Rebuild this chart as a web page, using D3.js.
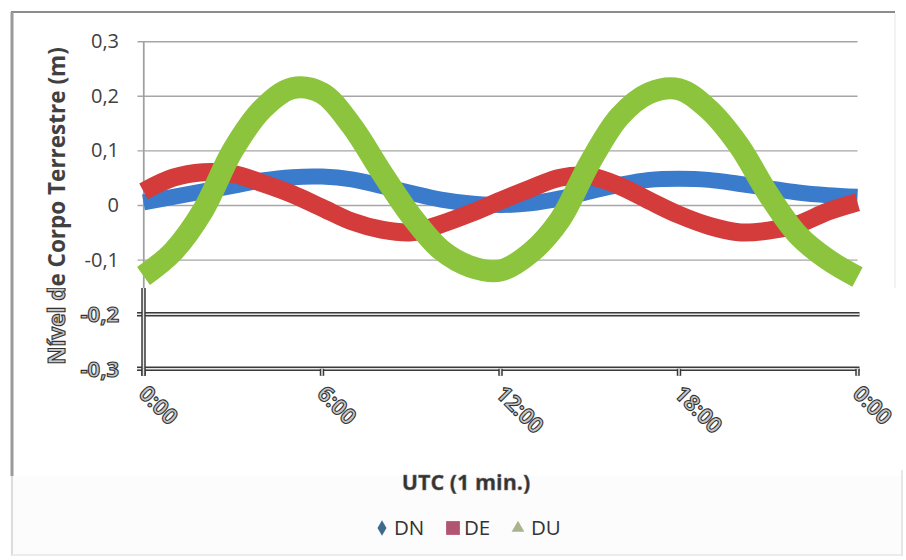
<!DOCTYPE html>
<html>
<head>
<meta charset="utf-8">
<script src="https://cdn.jsdelivr.net/npm/d3@7"></script>
<style>
body { margin: 0; background: #fff; }
svg { display: block; font-family: "Open Sans", Lato, sans-serif; }
</style>
</head>
<body>
<div id="chart"></div>
<script>
const width = 906
    height = 560;

// hours of the day (UTC)
const hours = [0, 1, 2, 3, 4, 5, 6, 7, 8, 9, 10, 11, 12, 13, 14, 15, 16, 17, 18, 19, 20, 21, 22, 23, 24];

// body tide, metres
const dn = [0.005, 0.015, 0.025, 0.035, 0.045, 0.051, 0.052, 0.047, 0.035, 0.022, 0.010, 0.003, 0.000,
            0.003, 0.012, 0.025, 0.037, 0.046, 0.048, 0.046, 0.039, 0.031, 0.023, 0.018, 0.015];
const de = [0.025, 0.050, 0.060, 0.057, 0.040, 0.020, -0.005, -0.030, -0.045, -0.050, -0.035, -0.015, 0.008,
            0.030, 0.050, 0.053, 0.035, 0.008, -0.018, -0.038, -0.050, -0.047, -0.035, -0.012, 0.005];
const du = [-0.130, -0.085, -0.010, 0.100, 0.176, 0.214, 0.205, 0.145, 0.060, -0.020, -0.082, -0.113, -0.120,
            -0.088, -0.027, 0.077, 0.162, 0.205, 0.212, 0.175, 0.110, 0.020, -0.055, -0.100, -0.132];

const seriesNames = ["DN", "DE", "DU"];
const seriesColors = ["#3a7bcc", "#d43b3b", "#8cc43e"];
const seriesWidths = [16, 18, 22];

const yTicks = [-0.3, -0.2, -0.1, 0, 0.1, 0.2, 0.3];
const yTickLabels = ["-0,3", "-0,2", "-0,1", "0", "0,1", "0,2", "0,3"];
const xTicks = [0, 6, 12, 18, 24];
const xTickLabels = ["0:00", "6:00", "12:00", "18:00", "0:00"];

const yTitle = "Nível de Corpo Terrestre (m)";
const xTitle = "UTC (1 min.)";

// the upper picture covers this box, below it everything is "ghosted"
const panel = {x: 13, y: 13, w: 882, h: 275};
const cut = panel.y + panel.h;

const x = d3.scaleLinear().domain([0, 24]).range([143.5, 857.5]);
const y = d3.scaleLinear().domain([-0.3, 0.3]).range([368.8, 41.2]);

const svg = d3.select("#chart").append("svg")
    .attr("width", width)
    .attr("height", height);

const defs = svg.append("defs");

// legend band background
svg.append("rect")
    .attr("x", 12).attr("y", 476).attr("width", 890).attr("height", 79)
    .attr("fill", "#fcfcfc");

// ---------- ghost layer ----------
let ghost = svg.append("g").attr("class", "ghost");

function ghostLine(g, x1, y1, x2, y2) {
    g.append("line").attr("x1", x1).attr("y1", y1).attr("x2", x2).attr("y2", y2)
        .attr("stroke", "#3a3a3a").attr("stroke-width", 4.5);
    g.append("line").attr("x1", x1).attr("y1", y1).attr("x2", x2).attr("y2", y2)
        .attr("stroke", "#e8e8e8").attr("stroke-width", 1.5);
}

yTicks.filter(v => y(v) > cut).forEach(v => ghostLine(ghost, 137, y(v), x(24) + 2, y(v)));
ghostLine(ghost, x(0), cut, x(0), y(-0.3) + 7);
xTicks.forEach(t => ghostLine(ghost, x(t), y(-0.3), x(t), y(-0.3) + 7));

function ghostText(sel) {
    return sel.attr("fill", "#c8c8c8")
        .attr("stroke", "#333")
        .attr("stroke-width", 1.1)
        .attr("font-weight", "bold");
}

ghost.selectAll("text.xtick")
    .data(xTicks)
    .join("text")
    .attr("class", "xtick")
    .attr("transform", d => `translate(${x(d) - 6},${395}) rotate(45)`)
    .attr("font-size", 22)
    .text((d, i) => xTickLabels[i])
    .call(ghostText);

// ---------- upper picture ----------
svg.append("clipPath").attr("id", "panelClip")
  .append("rect")
    .attr("x", panel.x).attr("y", panel.y)
    .attr("width", panel.w).attr("height", panel.h);

let upper = svg.append("g").attr("clip-path", "url(#panelClip)");

upper.append("rect")
    .attr("x", panel.x).attr("y", panel.y)
    .attr("width", panel.w).attr("height", panel.h)
    .attr("fill", "#fff");

upper.append("g")
    .attr("transform", `translate(${x(0)},0)`)
    .call(d3.axisLeft(y)
        .tickValues(yTicks.filter(v => y(v) < cut))
        .tickSize(-(x(24) - x(0)))
        .tickSizeOuter(0)
        .tickFormat(""))
    .call(g => g.select(".domain").attr("stroke", "#a0a0a0").attr("stroke-width", 1.2))
    .call(g => g.selectAll(".tick line").attr("stroke", "#a6a6a6").attr("stroke-width", 1.4).attr("x1", -6));
upper.append("line")
    .attr("x1", x(0)).attr("x2", x(0)).attr("y1", y(0.3)).attr("y2", cut)
    .attr("stroke", "#a0a0a0").attr("stroke-width", 1.2);

const line = d3.line()
    .x((d, i) => x(hours[i]))
    .y(d => y(d))
    .curve(d3.curveCatmullRom);

[dn, de, du].forEach((s, k) => {
    upper.append("path")
        .datum(s)
        .attr("fill", "none")
        .attr("stroke", seriesColors[k])
        .attr("stroke-width", seriesWidths[k])
        .attr("stroke-linecap", "butt")
        .attr("stroke-linejoin", "round")
        .attr("d", line);
});

// y tick labels: plain in the upper picture, ghosted below it
svg.append("g").selectAll("text")
    .data(yTicks)
    .join("text")
    .attr("x", 119)
    .attr("y", d => y(d))
    .attr("dy", "0.35em")
    .attr("text-anchor", "end")
    .attr("font-size", d => y(d) > cut ? 22 : 20)
    .text((d, i) => yTickLabels[i])
    .each(function (d) {
        let t = d3.select(this);
        if (y(d) > cut) t.call(ghostText);
        else t.attr("fill", "#404040");
    });

// y title: one text, plain above the cut, ghosted below it
const titleX = 65, titleY = 206;
const cutLocal = titleY - cut;   // local x of the cut after rotate(-90)
let gFill = defs.append("linearGradient").attr("id", "titleFill")
    .attr("gradientUnits", "userSpaceOnUse")
    .attr("x1", cutLocal - 0.5).attr("x2", cutLocal + 0.5).attr("y1", 0).attr("y2", 0);
gFill.append("stop").attr("offset", 0).attr("stop-color", "#c8c8c8");
gFill.append("stop").attr("offset", 1).attr("stop-color", "#404040");
let gStroke = defs.append("linearGradient").attr("id", "titleStroke")
    .attr("gradientUnits", "userSpaceOnUse")
    .attr("x1", cutLocal - 0.5).attr("x2", cutLocal + 0.5).attr("y1", 0).attr("y2", 0);
gStroke.append("stop").attr("offset", 0).attr("stop-color", "#333").attr("stop-opacity", 1);
gStroke.append("stop").attr("offset", 1).attr("stop-color", "#333").attr("stop-opacity", 0);

svg.append("text")
    .attr("transform", `translate(${titleX},${titleY}) rotate(-90)`)
    .attr("text-anchor", "middle")
    .attr("font-size", 22.5)
    .attr("font-weight", "bold")
    .attr("fill", "url(#titleFill)")
    .attr("stroke", "url(#titleStroke)")
    .attr("stroke-width", 1.1)
    .text(yTitle);

// ---------- x axis title ----------
svg.append("text")
    .attr("x", 466)
    .attr("y", 490)
    .attr("text-anchor", "middle")
    .attr("font-size", 21.5)
    .attr("font-weight", "bold")
    .attr("fill", "#333")
    .attr("stroke", "#777")
    .attr("stroke-width", 0.4)
    .text(xTitle);

// ---------- legend ----------
const legendX = [382, 453, 518];
const legendTextX = [394, 464, 531];
const markerColors = ["#3f6a8c", "#b25570", "#a9b38e"];
const markerTypes = [d3.symbolDiamond, d3.symbolSquare, d3.symbolTriangle];
const markerSizes = [70, 190, 70];

let legend = svg.append("g").attr("class", "legend");
seriesNames.forEach((name, i) => {
    legend.append("path")
        .attr("transform", `translate(${legendX[i]},528)`)
        .attr("d", d3.symbol().type(markerTypes[i]).size(markerSizes[i])())
        .attr("fill", markerColors[i]);
    legend.append("text")
        .attr("x", legendTextX[i])
        .attr("y", 528)
        .attr("dy", "0.35em")
        .attr("font-size", 20.5)
        .attr("fill", "#333")
        .text(name);
});

// ---------- frame ----------
svg.append("line").attr("x1", 11).attr("y1", 12).attr("x2", 895).attr("y2", 12)
    .attr("stroke", "#8c8c8c").attr("stroke-width", 2);
svg.append("line").attr("x1", 12).attr("y1", 12).attr("x2", 12).attr("y2", 476)
    .attr("stroke", "#9a9a9a").attr("stroke-width", 3);
svg.append("line").attr("x1", 12).attr("y1", 476).attr("x2", 12).attr("y2", 556)
    .attr("stroke", "#dcdcdc").attr("stroke-width", 2);
svg.append("line").attr("x1", 12).attr("y1", 555).attr("x2", 902).attr("y2", 555)
    .attr("stroke", "#ececec").attr("stroke-width", 2);
svg.append("line").attr("x1", 902).attr("y1", 470).attr("x2", 902).attr("y2", 556)
    .attr("stroke", "#e6e6e6").attr("stroke-width", 2);
svg.append("line").attr("x1", 895).attr("y1", 13).attr("x2", 895).attr("y2", 288)
    .attr("stroke", "#f2f2f2").attr("stroke-width", 2);
</script>
</body>
</html>
